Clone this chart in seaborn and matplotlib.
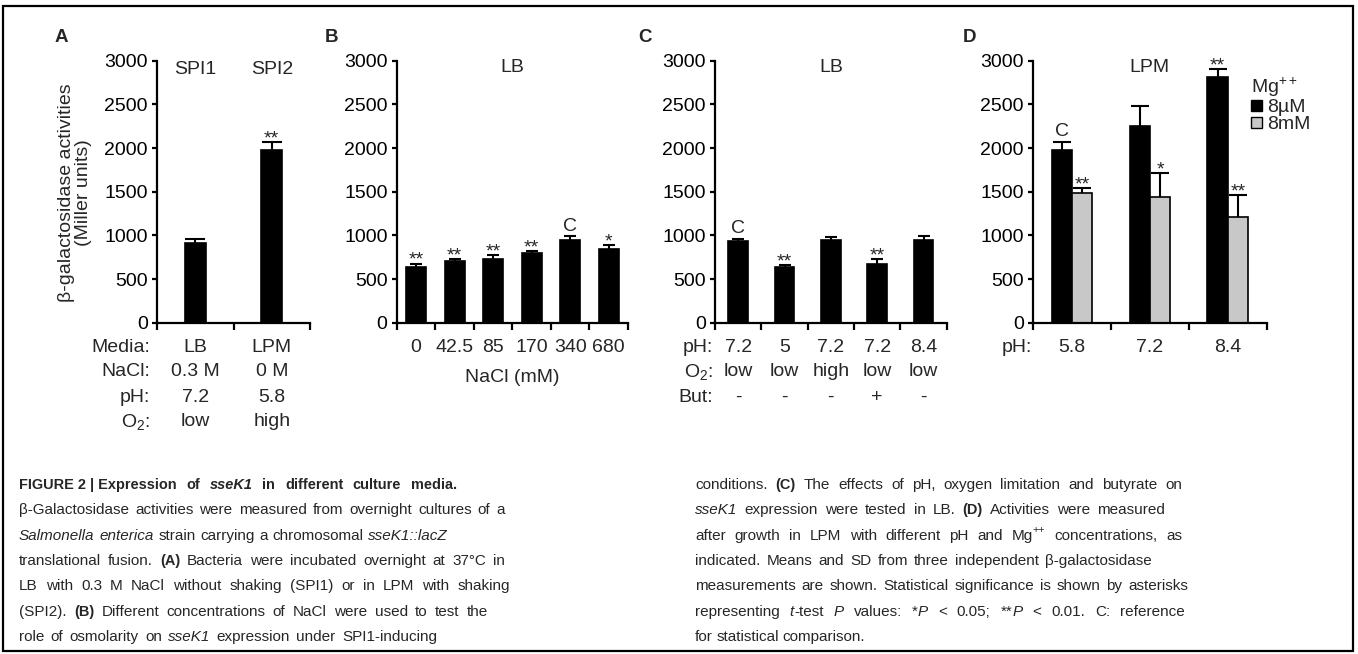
import numpy as np
import pandas as pd
import matplotlib
matplotlib.use("Agg")
import matplotlib.pyplot as plt
import seaborn as sns
from matplotlib import font_manager
from matplotlib.patches import Rectangle, Patch
from matplotlib.transforms import Affine2D, blended_transform_factory

W, H = 1358, 654

# Panel A: SPI1 vs SPI2 conditions
a_conditions = ["SPI1", "SPI2"]
a_values = [915, 1980]
a_sd = [45, 85]
a_marks = ["", "**"]
a_rows = ["Media:", "NaCl:", "pH:", "O$_2$:"]
a_media = ["LB", "LPM"]
a_nacl = ["0.3 M", "0 M"]
a_ph = ["7.2", "5.8"]
a_o2 = ["low", "high"]

# Panel B: NaCl series in LB
b_nacl = ["0", "42.5", "85", "170", "340", "680"]
b_values = [640, 708, 727, 800, 950, 845]
b_sd = [37, 26, 53, 19, 42, 42]
b_marks = ["**", "**", "**", "**", "C", "*"]

# Panel C: pH / O2 / butyrate in LB
c_rows = ["pH:", "O$_2$:", "But:"]
c_ph = ["7.2", "5", "7.2", "7.2", "8.4"]
c_o2 = ["low", "low", "high", "low", "low"]
c_but = ["-", "-", "-", "+", "-"]
c_values = [932, 640, 943, 670, 951]
c_sd = [30, 23, 34, 57, 38]
c_marks = ["C", "**", "", "**", ""]

# Panel D: pH x Mg++ in LPM
d_ph = ["5.8", "7.2", "8.4"]
d_mg = ["8µM", "8mM"]
d_colors = ["black", "#c8c8c8"]
d_values = {"8µM": [1975, 2255, 2810], "8mM": [1490, 1435, 1215]}
d_sd = {"8µM": [95, 230, 90], "8mM": [55, 275, 250]}
d_marks = {"8µM": ["C", "", "**"], "8mM": ["**", "*", "**"]}

caption_left = [
    (489, 457, "b:FIGURE_2_|_Expression b:of bi:sseK1 b:in b:different b:culture b:media."),
    (514, 505, "β-Galactosidase activities were measured from overnight cultures of a"),
    (540, 448, "i:Salmonella i:enterica strain carrying a chromosomal i:sseK1::lacZ"),
    (565, 505, "translational fusion. b:(A) Bacteria were incubated overnight at 37°C in"),
    (590, 510, "LB with 0.3 M NaCl without shaking (SPI1) or in LPM with shaking"),
    (616, 488, "(SPI2). b:(B) Different concentrations of NaCl were used to test the"),
    (641, 437, "role of osmolarity on i:sseK1 expression under SPI1-inducing"),
]
caption_right = [
    (489, 1182, "conditions. b:(C) The effects of pH, oxygen limitation and butyrate on"),
    (514, 1165, "i:sseK1 expression were tested in LB. b:(D) Activities were measured"),
    (540, 1182, "after growth in LPM with different pH and Mg~s:++ concentrations, as"),
    (565, 1152, "indicated. Means and SD from three independent β-galactosidase"),
    (590, 1188, "measurements are shown. Statistical significance is shown by asterisks"),
    (616, 1185, "representing i:t~-test i:P values: *~i:P < 0.05; **~i:P < 0.01. C: reference"),
    (641, 865, "for statistical comparison."),
]

sns.set_style("ticks")
names = {f.name for f in font_manager.fontManager.ttflist}
SANS = "Liberation Sans" if "Liberation Sans" in names else "DejaVu Sans"
NARROW = "Liberation Sans Narrow" if "Liberation Sans Narrow" in names else SANS
CAP_SIZE = 12.5 if NARROW != SANS else 11
plt.rcParams.update({
    "font.family": [SANS, "DejaVu Sans"],
    "mathtext.fontset": "custom",
    "mathtext.rm": SANS,
    "mathtext.it": SANS + ":italic",
    "mathtext.bf": SANS + ":bold",
    "axes.linewidth": 1.6,
    "axes.edgecolor": "black",
    "xtick.color": "black",
    "ytick.color": "black",
})

fig = plt.figure(figsize=(W / 100, H / 100), dpi=100)
PX = Affine2D().scale(1, -1).translate(0, H)


def add_axes(left, right, top=60.7, bottom=322.7):
    return fig.add_axes([left / W, 1 - bottom / H, (right - left) / W, (bottom - top) / H])


def style_axes(ax, n):
    ax.set_xlim(-0.5, n - 0.5)
    ax.set_ylim(0, 3000)
    ax.set_yticks(np.arange(0, 3001, 500))
    ax.set_xticks(np.arange(n + 1) - 0.5)
    ax.set_xticklabels([])
    ax.set_xlabel("")
    ax.set_ylabel("")
    ax.tick_params(axis="x", length=5, width=1.6, direction="out")
    ax.tick_params(axis="y", length=3.6, width=1.6, direction="out", labelsize=14, pad=3)
    sns.despine(ax=ax)


def add_errors(ax, sds, marks, capsize):
    for cont, sd, mk in zip(list(ax.containers), sds, marks):
        xs = [b.get_x() + b.get_width() / 2 for b in cont]
        tops = [b.get_height() for b in cont]
        _, caps, _ = ax.errorbar(xs, tops, yerr=[np.zeros(len(sd)), sd], fmt="none",
                                 ecolor="black", elinewidth=1.5, capsize=capsize,
                                 capthick=1.5, zorder=3)
        caps[0].set_visible(False)  # upper bar only, Prism style
        for xc, t, s, m in zip(xs, tops, sd, mk):
            if m == "C":
                ax.annotate("C", (xc, t + s), xytext=(0, 4), textcoords="offset points",
                            ha="center", va="baseline", fontsize=14)
            elif m:
                ax.annotate(m, (xc, t + s), xytext=(0, -1), textcoords="offset points",
                            ha="center", va="baseline", fontsize=14)


def rows_below(ax, labels, rows, label_x, y0=347, step=25):
    tr = blended_transform_factory(ax.transData, PX)
    for i, vals in enumerate(rows):
        y = y0 + i * step
        if labels:
            fig.text(label_x, y, labels[i], transform=PX, ha="right", va="center", fontsize=14)
        for j, v in enumerate(vals):
            ax.text(j, y, v, transform=tr, ha="center", va="center", fontsize=14, clip_on=False)


def title(ax, text, x=None, y=68):
    if x is None:
        tr = blended_transform_factory(ax.transAxes, PX)
        ax.text(0.5, y, text, transform=tr, ha="center", va="center", fontsize=14)
    else:
        tr = blended_transform_factory(ax.transData, PX)
        ax.text(x, y, text, transform=tr, ha="center", va="center", fontsize=14)


# ---- Panel A
ax_a = add_axes(157, 310)
df_a = pd.DataFrame({"cond": a_conditions, "value": a_values})
sns.barplot(data=df_a, x="cond", y="value", color="black", edgecolor="black", linewidth=1.2,
            width=0.27, saturation=1, errorbar=None, ax=ax_a)
add_errors(ax_a, [a_sd], [a_marks], capsize=7.2)
style_axes(ax_a, len(a_conditions))
for i, c in enumerate(a_conditions):
    title(ax_a, c, x=i, y=70)
rows_below(ax_a, a_rows, [a_media, a_nacl, a_ph, a_o2], 150)

# ---- Panel B
ax_b = add_axes(396.7, 628)
df_b = pd.DataFrame({"nacl": b_nacl, "value": b_values})
sns.barplot(data=df_b, x="nacl", y="value", color="black", edgecolor="black", linewidth=1.2,
            width=0.52, saturation=1, errorbar=None, ax=ax_b)
add_errors(ax_b, [b_sd], [b_marks], capsize=4.5)
style_axes(ax_b, len(b_nacl))
title(ax_b, "LB")
rows_below(ax_b, None, [b_nacl], None)
ax_b.text(0.5, 377, "NaCl (mM)", transform=blended_transform_factory(ax_b.transAxes, PX),
          ha="center", va="center", fontsize=14)

# ---- Panel C
ax_c = add_axes(715, 946.7)
df_c = pd.DataFrame({"cond": [f"{p}/{o}/{b}{i}" for i, (p, o, b) in enumerate(zip(c_ph, c_o2, c_but))],
                     "value": c_values})
sns.barplot(data=df_c, x="cond", y="value", color="black", edgecolor="black", linewidth=1.2,
            width=0.43, saturation=1, errorbar=None, ax=ax_c)
add_errors(ax_c, [c_sd], [c_marks], capsize=4.5)
style_axes(ax_c, len(c_ph))
title(ax_c, "LB")
rows_below(ax_c, c_rows, [c_ph, c_o2, c_but], 713)

# ---- Panel D
ax_d = add_axes(1033, 1266.7)
df_d = pd.DataFrame({
    "ph": d_ph * len(d_mg),
    "mg": [m for m in d_mg for _ in d_ph],
    "value": [v for m in d_mg for v in d_values[m]],
})
sns.barplot(data=df_d, x="ph", y="value", hue="mg", hue_order=d_mg, palette=d_colors,
            edgecolor="black", linewidth=1.2, width=0.52, saturation=1, errorbar=None,
            legend=False, ax=ax_d)
add_errors(ax_d, [d_sd[m] for m in d_mg], [d_marks[m] for m in d_mg], capsize=6.5)
style_axes(ax_d, len(d_ph))
title(ax_d, "LPM")
rows_below(ax_d, ["pH:"], [d_ph], 1032)
handles = [Patch(facecolor=c, edgecolor="black", linewidth=1.0) for c in d_colors]
ax_d.legend(handles, d_mg, title="Mg$^{++}$", loc="upper left",
            bbox_to_anchor=(1251 / W, 1 - 76 / H), bbox_transform=fig.transFigure,
            frameon=False, fontsize=14, title_fontsize=14, handlelength=0.55,
            handleheight=0.55, handletextpad=0.3, labelspacing=0.0, borderpad=0,
            borderaxespad=0, alignment="left")

# ---- shared y label and panel letters
fig.text(75, 193, "β-galactosidase activities\n(Miller units)", transform=PX, rotation=90,
         ha="center", va="center", fontsize=14, linespacing=1.0, multialignment="center")
for letter, x in zip("ABCD", [55, 325, 638, 963]):
    fig.text(x, 38, letter, transform=PX, ha="left", va="center", fontsize=13.5, weight="bold")

# ---- caption, justified word by word
STYLES = {"b": dict(weight="bold"), "i": dict(style="italic"),
          "bi": dict(weight="bold", style="italic"), "s": dict()}
renderer = fig.canvas.get_renderer()


def caption_line(x0, y, right, line, size=CAP_SIZE):
    words = []
    for word in line.split(" "):
        segs = []
        for seg in word.split("~"):
            key = seg.split(":")[0]
            if ":" in seg and key in STYLES:
                kind, txt = key, seg[len(key) + 1:]
            else:
                kind, txt = "", seg
            fs = size * 0.7 if kind == "s" else (size * 0.95 if "b" in kind else size)
            t = fig.text(0, 0, txt.replace("_", " "), transform=PX, fontsize=fs,
                         family=[NARROW, "DejaVu Sans"], va="baseline", **STYLES.get(kind, {}))
            segs.append((t, kind, t.get_window_extent(renderer).width))
        words.append(segs)
    total = sum(w for segs in words for _, _, w in segs)
    gap = max((right - x0 - total) / max(len(words) - 1, 1), 2.5)
    x = x0
    for segs in words:
        for t, kind, w in segs:
            dy = -size * 0.45 * 100 / 72 if kind == "s" else 0
            t.set_position((x, y + dy))
            x += w
        x += gap


for y, right, line in caption_left:
    caption_line(19, y, right, line)
for y, right, line in caption_right:
    caption_line(695, y, right, line)

fig.add_artist(Rectangle((3, 6), 1350, 645, transform=PX, fill=False, edgecolor="black", linewidth=1.6))

fig.savefig("out.png", dpi=100)
